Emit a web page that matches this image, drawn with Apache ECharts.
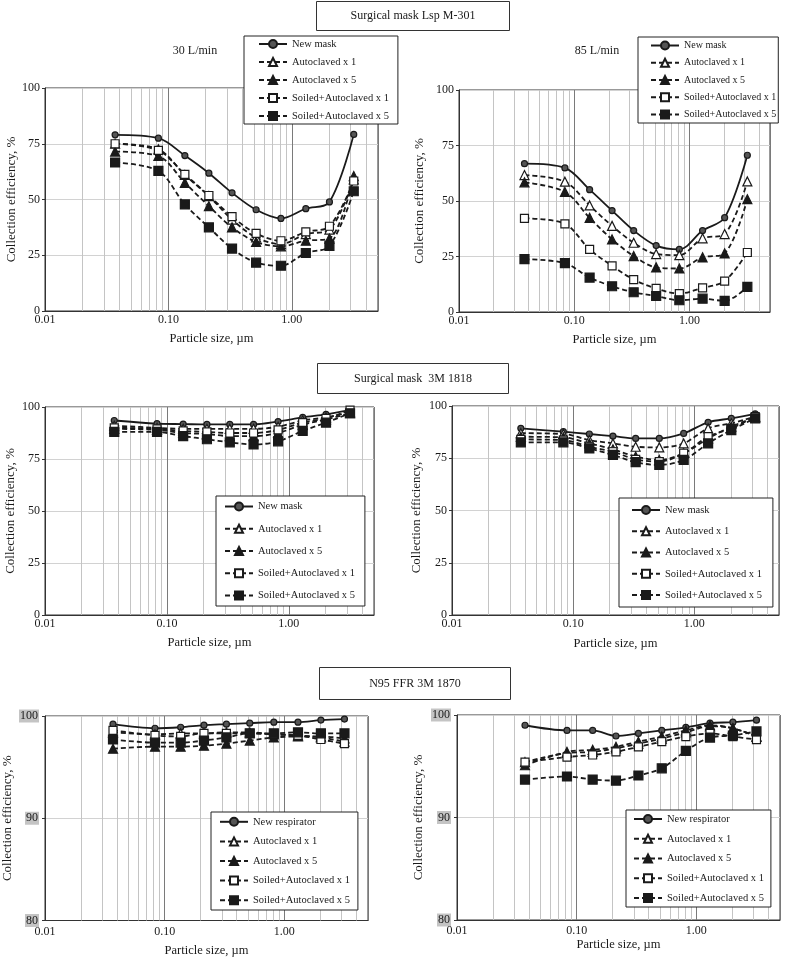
<!DOCTYPE html>
<html><head><meta charset="utf-8">
<script src="https://cdn.jsdelivr.net/npm/echarts@6/dist/echarts.min.js"></script>
<style>html,body{margin:0;padding:0;background:#fff}#c{width:787px;height:958px}</style>
</head><body><div id="c"></div>
<script>
// Particle sizes (µm)
const sizes = [0.037, 0.083, 0.136, 0.213, 0.328, 0.514, 0.817, 1.30, 2.02, 3.18];
const xTickLabels = ['0.01', '0.10', '1.00'];
const minorGrid = [0.02,0.03,0.04,0.05,0.06,0.07,0.08,0.09,0.2,0.3,0.4,0.5,0.6,0.7,0.8,0.9,2,3,4];

const maskNames = ['New mask','Autoclaved x 1','Autoclaved x 5','Soiled+Autoclaved x 1','Soiled+Autoclaved x 5'];
const respNames = ['New respirator','Autoclaved x 1','Autoclaved x 5','Soiled+Autoclaved x 1','Soiled+Autoclaved x 5'];

// Surgical mask Lsp M-301, 30 L/min
const lsp30_new = [79, 77.5, 69.7, 61.8, 53, 45.4, 41.5, 45.9, 48.9, 79.2];
const lsp30_a1  = [75, 72.5, 61, 51.5, 41, 33, 30, 34.5, 36.5, 59];
const lsp30_a5  = [71.5, 69.5, 57.5, 47, 37.5, 31, 29, 31.5, 32.5, 60.5];
const lsp30_s1  = [75, 72, 61.3, 51.8, 42.3, 34.8, 31.5, 35.5, 38, 58.3];
const lsp30_s5  = [66.6, 62.8, 47.8, 37.5, 28, 21.7, 20.3, 26, 29.2, 53.7];
// Surgical mask Lsp M-301, 85 L/min
const lsp85_new = [66.8, 64.9, 55.1, 45.7, 36.7, 29.9, 28.2, 36.7, 42.5, 70.6];
const lsp85_a1  = [61.7, 58.7, 48, 38.8, 31.2, 26.1, 25.6, 33.2, 35.1, 58.8];
const lsp85_a5  = [58.4, 54.1, 42.4, 32.7, 25.2, 20.1, 19.6, 24.6, 26.4, 50.8];
const lsp85_s1  = [42.2, 39.7, 28.2, 20.8, 14.6, 10.6, 8.3, 10.9, 13.9, 26.8];
const lsp85_s5  = [23.8, 22, 15.5, 11.6, 8.9, 7.2, 5.3, 6, 5, 11.3];
// Surgical mask 3M 1818, 30 L/min
const m18_30_new = [93.5, 92, 91.8, 91.6, 91.6, 91.6, 93, 95, 96.5, 98.5];
const m18_30_a1  = [91, 90, 89.5, 89.5, 89.5, 89.5, 90.5, 93.5, 95, 97.5];
const m18_30_a5  = [89.5, 89, 87.5, 87, 86, 86, 87.5, 91.5, 94, 97];
const m18_30_s1  = [90, 89.5, 88.5, 88, 87.5, 87.5, 89, 92.5, 94.5, 98.5];
const m18_30_s5  = [88, 88, 86, 84.5, 83, 82, 83.5, 88.5, 92.5, 97];
// Surgical mask 3M 1818, 85 L/min
const m18_85_new = [89.3, 87.7, 86.6, 85.6, 84.5, 84.5, 86.9, 92.2, 94.1, 96.2];
const m18_85_a1  = [87, 86.6, 83.7, 82.1, 80.5, 80.2, 82.1, 89.3, 91.7, 94.9];
const m18_85_a5  = [85.3, 85, 82.1, 79.3, 75.8, 74.2, 77.4, 84.5, 90.1, 94.6];
const m18_85_s1  = [84, 83.7, 80.5, 78.1, 74.5, 73.4, 77.4, 85.3, 89.3, 94.9];
const m18_85_s5  = [82.6, 82.6, 79.7, 76.6, 73.1, 71.8, 74.2, 82.1, 88.5, 94.1];
// N95 FFR 3M 1870, 30 L/min
const n95_30_new = [99.2, 98.8, 98.9, 99.1, 99.2, 99.3, 99.4, 99.4, 99.6, 99.7];
const n95_30_a1  = [98.4, 98.2, 98.3, 98.3, 98.4, 98.4, 98.2, 98.1, 97.9, 97.5];
const n95_30_a5  = [96.8, 97.0, 97.0, 97.1, 97.3, 97.6, 97.9, 98.0, 98.0, 97.8];
const n95_30_s1  = [98.6, 98.1, 98.0, 98.3, 98.3, 98.3, 98.2, 98.1, 97.7, 97.3];
const n95_30_s5  = [97.7, 97.4, 97.4, 97.6, 97.9, 98.3, 98.3, 98.4, 98.3, 98.3];
// N95 FFR 3M 1870, 85 L/min
const n95_85_new = [99.0, 98.5, 98.5, 97.95, 98.2, 98.5, 98.8, 99.2, 99.3, 99.5];
const n95_85_a1  = [95.4, 96.3, 96.4, 96.75, 97.2, 97.7, 98.3, 98.9, 98.7, 97.9];
const n95_85_a5  = [95.1, 96.4, 96.6, 96.9, 97.4, 97.9, 98.5, 99.0, 98.7, 97.9];
const n95_85_s1  = [95.4, 95.9, 96.1, 96.4, 96.9, 97.4, 97.9, 98.2, 97.9, 97.6];
const n95_85_s5  = [93.7, 94.0, 93.7, 93.6, 94.1, 94.8, 96.5, 97.8, 98.0, 98.4];

const FONT = 'Liberation Serif';
const INK = '#1a1a1a';

const panels = [
  {grid:{left:45, top:88, width:333, height:223}, y:[0,100,25], gapY:21.5, gapX:21.5, names:maskNames,
   vals:[lsp30_new,lsp30_a1,lsp30_a5,lsp30_s1,lsp30_s5], leg:{left:244, top:36, pad:[2,9,2,14], gap:6}, hl:false, xm:3},
  {grid:{left:459, top:90, width:311, height:222}, y:[0,100,25], gapY:32.5, gapX:21, names:maskNames,
   vals:[lsp85_new,lsp85_a1,lsp85_a5,lsp85_s1,lsp85_s5], leg:{left:638, top:37, pad:[2.5,2,2.5,12], gap:5.25, fs:10}, hl:false, xm:3},
  {grid:{left:45, top:407, width:329, height:208}, y:[0,100,25], gapY:27.5, gapX:21.5, names:maskNames,
   vals:[m18_30_new,m18_30_a1,m18_30_a5,m18_30_s1,m18_30_s5], leg:{left:216, top:496, pad:[4.5,10,4.5,8], gap:10.25}, hl:false, xm:3},
  {grid:{left:452, top:406, width:327, height:209}, y:[0,100,25], gapY:28.5, gapX:22, names:maskNames,
   vals:[m18_85_new,m18_85_a1,m18_85_a5,m18_85_s1,m18_85_s5], leg:{left:619, top:498, pad:[6,11,6,12], gap:9.25}, hl:false, xm:3},
  {grid:{left:45, top:716, width:323, height:206}, y:[80,100,10], gapY:30.5, gapX:23.5, names:respNames,
   vals:[n95_30_new,n95_30_a1,n95_30_a5,n95_30_s1,n95_30_s5], leg:{left:211, top:812, pad:[3.8,8,3.8,8], gap:7.6}, hl:true, xm:5},
  {grid:{left:457, top:715, width:323, height:205}, y:[80,100,10], gapY:31.5, gapX:16.5, names:respNames,
   vals:[n95_85_new,n95_85_a1,n95_85_a5,n95_85_s1,n95_85_s5], leg:{left:626, top:810, pad:[3,7,3,7], gap:7.75}, hl:true, xm:5}
];

const styles = [
  {symbol:'circle', size:6, fill:'#555', dash:'solid', lw:1.8},
  {symbol:'triangle', size:9, fill:'#fff', dash:[5,3], lw:1.8},
  {symbol:'triangle', size:9, fill:INK, dash:[5,3], lw:1.8},
  {symbol:'rect', size:8, fill:'#fff', dash:[5,3], lw:1.8},
  {symbol:'rect', size:9, fill:INK, dash:[5,3], lw:1.8}
];

const isDecade = v => Math.abs(Math.log10(v) - Math.round(Math.log10(v))) < 1e-6;

const option = {
  animation:false,
  backgroundColor:'#fff',
  textStyle:{fontFamily:FONT, color:INK},
  grid:[], xAxis:[], yAxis:[], series:[], legend:[],
  graphic:[
    {type:'rect', shape:{x:316.5,y:1.5,width:193,height:29}, style:{fill:'#fff', stroke:'#333', lineWidth:1}},
    {type:'text', x:413, y:16, style:{text:'Surgical mask Lsp M-301', font:'12px "Liberation Serif"', fill:INK, align:'center', verticalAlign:'middle'}},
    {type:'rect', shape:{x:317.5,y:363.5,width:191,height:30}, style:{fill:'#fff', stroke:'#333', lineWidth:1}},
    {type:'text', x:413, y:378.5, style:{text:'Surgical mask  3M 1818', font:'12px "Liberation Serif"', fill:INK, align:'center', verticalAlign:'middle'}},
    {type:'rect', shape:{x:319.5,y:667.5,width:191,height:32}, style:{fill:'#fff', stroke:'#333', lineWidth:1}},
    {type:'text', x:415, y:683.5, style:{text:'N95 FFR 3M 1870', font:'12px "Liberation Serif"', fill:INK, align:'center', verticalAlign:'middle'}},
    {type:'text', x:195, y:51, style:{text:'30 L/min', font:'12px "Liberation Serif"', fill:INK, align:'center', verticalAlign:'middle'}},
    {type:'text', x:597, y:51, style:{text:'85 L/min', font:'12px "Liberation Serif"', fill:INK, align:'center', verticalAlign:'middle'}}
  ]
};

panels.forEach((p, i) => {
  option.grid.push(Object.assign({show:true, borderColor:'#333', borderWidth:1, backgroundColor:'#fff', containLabel:false}, p.grid));
  option.xAxis.push({
    type:'log', logBase:10, min:0.01, max:5, gridIndex:i,
    name:'Particle size, µm', nameLocation:'middle', nameGap:p.gapX,
    nameTextStyle:{fontFamily:FONT, fontSize:12.5, color:INK},
    axisLine:{show:true, lineStyle:{color:'#333'}}, axisTick:{show:false},
    axisLabel:{fontFamily:FONT, fontSize:12, color:INK, margin:p.xm,
      formatter: v => isDecade(v) && v < 2 ? v.toFixed(2) : ''},
    splitLine:{show:true, lineStyle:{color:'#7a7a7a', width:1}},
    minorTick:{show:false}, minorSplitLine:{show:false}
  });
  option.yAxis.push({
    type:'value', min:p.y[0], max:p.y[1], interval:p.y[2], gridIndex:i,
    name:'Collection efficiency, %', nameLocation:'middle', nameGap:p.gapY,
    nameTextStyle:{fontFamily:FONT, fontSize:13, color:INK},
    axisLine:{show:true, lineStyle:{color:'#333'}},
    axisTick:{show:true, length:3, lineStyle:{color:'#333'}},
    axisLabel:{fontFamily:FONT, fontSize:12, color:INK, margin:p.hl ? 6 : 5,
      backgroundColor:p.hl ? '#c4c4c4' : 'transparent', padding:p.hl ? [1,1,0,1] : 0},
    splitLine:{show:true, lineStyle:{color:'#d2d2d2', width:1}}
  });
  // minor log grid lines through the axis scale
  option.series.push({
    type:'line', name:'_grid'+i, xAxisIndex:i, yAxisIndex:i, data:[], silent:true, z:1,
    markLine:{silent:true, z:1, symbol:['none','none'], label:{show:false}, animation:false,
      lineStyle:{color:'#c4c4c4', width:1, type:'solid'}, emphasis:{disabled:true},
      data:minorGrid.map(v => ({xAxis:v}))}
  });
  p.vals.forEach((vals, k) => {
    const s = styles[k];
    option.series.push({
      type:'line', name:p.names[k], xAxisIndex:i, yAxisIndex:i, z:3,
      data:sizes.map((x, j) => [x, vals[j]]),
      smooth:0.33, symbol:s.symbol, symbolSize:s.size, showSymbol:true,
      lineStyle:{color:INK, width:s.lw, type:s.dash},
      itemStyle:{color:s.fill, borderColor:INK, borderWidth:1.2},
      emphasis:{disabled:true}, silent:true
    });
  });
  option.legend.push({
    left:p.leg.left, top:p.leg.top, orient:'vertical', data:p.names,
    selectedMode:false, backgroundColor:'#fff', borderColor:'#222', borderWidth:1,
    padding:p.leg.pad, itemGap:p.leg.gap, itemWidth:28, itemHeight:10,
    textStyle:{fontFamily:FONT, fontSize:p.leg.fs || 10.5, color:INK, lineHeight:12}
  });
});

const chart = echarts.init(document.getElementById('c'), null, {renderer:'canvas'});
chart.setOption(option);
</script>
</body></html>
